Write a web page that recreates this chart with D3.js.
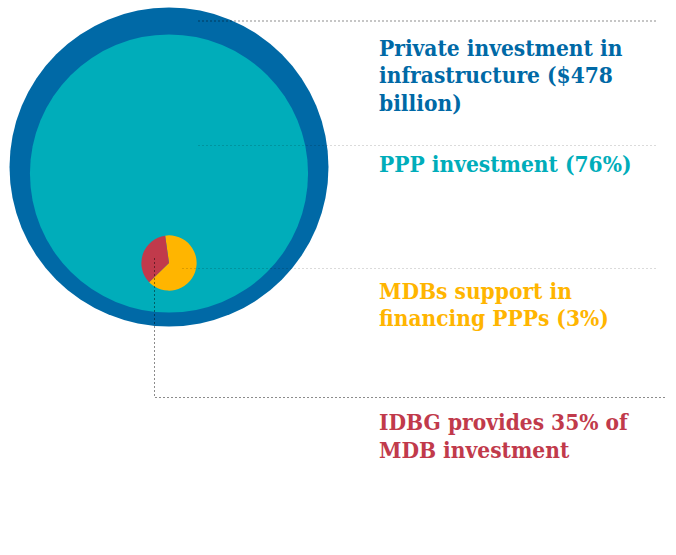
<!DOCTYPE html>
<html>
<head>
<meta charset="utf-8">
<script src="https://cdn.jsdelivr.net/npm/d3@7"></script>
<style>
  html, body { margin: 0; padding: 0; background: #fff; }
  svg { display: block; }
</style>
</head>
<body>
<svg id="chart" width="676" height="555"></svg>
<script>
// ---- data ----
const totalBillion = 478;                       // private investment in infrastructure
const nestedNames = ["Private investment", "PPP investment", "MDBs support"];
const nestedShares = [100, 76, 3];              // % of private investment
const mdbNames = ["Other MDBs", "IDBG"];
const mdbShares = [65, 35];                     // % of MDB investment
const labelLines = [
  ["Private investment in", "infrastructure ($478", "billion)"],
  ["PPP investment (76%)"],
  ["MDBs support in", "financing PPPs (3%)"],
  ["IDBG provides 35% of", "MDB investment"]
];

// ---- styles ----
const circleColors = ["#0069a6", "#00adba"];
const pieColors = ["#ffb500", "#c13a4b"];
const textColors = ["#0069a6", "#00adba", "#ffb500", "#c13a4b"];

const svg = d3.select("#chart");
const R = 159.5;
const r = d3.scaleSqrt().domain([0, 100]).range([0, R]);

const cx = 169;
const centersY = [167, 173.5];

svg.selectAll("circle.nest")
  .data(nestedShares.slice(0, 2))
  .join("circle")
  .attr("class", "nest")
  .attr("cx", cx)
  .attr("cy", (d, i) => centersY[i])
  .attr("r", d => r(d))
  .attr("fill", (d, i) => circleColors[i]);

// small pie
const pieR = r(nestedShares[2]);
const pieCenter = [169, 263];
const pie = d3.pie().sort(null).startAngle(-8 * Math.PI / 180).endAngle(-8 * Math.PI / 180 + 2 * Math.PI);
const arc = d3.arc().innerRadius(0).outerRadius(pieR);
svg.append("g")
  .attr("transform", `translate(${pieCenter[0]},${pieCenter[1]})`)
  .selectAll("path")
  .data(pie(mdbShares))
  .join("path")
  .attr("d", arc)
  .attr("fill", (d, i) => pieColors[i]);

// leader lines
const dark = "rgba(0,0,0,0.45)";
const light = "rgba(0,0,0,0.14)";
const leaders = [
  { pts: [[198, 21], [656, 21]], c: dark },
  { pts: [[198, 145.5], [656, 145.5]], c: light },
  { pts: [[182, 268.5], [658, 268.5]], c: light },
  { pts: [[154.5, 258], [154.5, 397.5], [665, 397.5]], c: dark }
];
const line = d3.line();
svg.selectAll("path.leader")
  .data(leaders)
  .join("path")
  .attr("class", "leader")
  .attr("d", d => line(d.pts))
  .attr("fill", "none")
  .attr("stroke", d => d.c)
  .attr("stroke-width", 1)
  .attr("stroke-dasharray", "2,2");

// labels
const baselines = [55.5, 171.5, 298.5, 430];
const lh = 27.8;
const labels = svg.selectAll("text.lab")
  .data(labelLines)
  .join("text")
  .attr("class", "lab")
  .attr("x", 379)
  .attr("y", (d, i) => baselines[i])
  .attr("fill", (d, i) => textColors[i])
  .style("font-family", "'DejaVu Serif Condensed', 'DejaVu Serif', serif")
  .style("font-stretch", "condensed")
  .style("font-weight", "bold")
  .style("font-size", "22.5px");
labels.selectAll("tspan")
  .data(d => d)
  .join("tspan")
  .attr("x", 379)
  .attr("dy", (d, i) => i === 0 ? 0 : lh)
  .text(d => d);
</script>
</body>
</html>
